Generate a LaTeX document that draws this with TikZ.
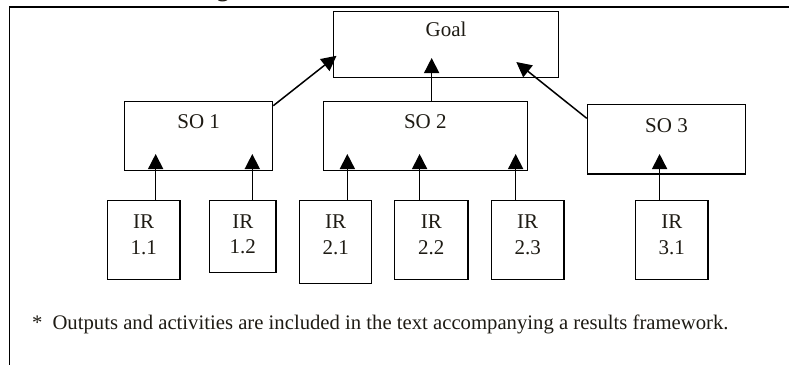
\documentclass[tikz,border=0pt]{standalone}
\usepackage{fontspec}
\setmainfont{Liberation Serif}
\usetikzlibrary{arrows.meta}
\definecolor{txt}{HTML}{1E1B14}
\begin{document}
\begin{tikzpicture}[x=1pt,y=-1pt,
  box/.style={draw=black, line width=1.3pt, inner sep=0pt, anchor=north west},
  lab/.style={anchor=base, inner sep=0pt, text=txt, font=\fontsize{21}{25}\selectfont},
  arr/.style={draw=black, line width=1.5pt, -{Triangle[width=15pt,length=15pt]}}]
\useasboundingbox (0,0) rectangle (789,364);
\clip (0,0) rectangle (789,364);
% clipped title
\node[anchor=base west, inner sep=0pt, text=txt, font=\fontsize{24.5}{28}\selectfont\bfseries] (title) at (195,-3.5) {Figure 3: USAID Results Framework};
% outer frame (runs off the right and bottom edges)
\draw[line width=1.6pt] (9.5,7) rectangle (830,420);
% goal
\node[box, minimum width=225, minimum height=66.5, label={[lab,yshift=-25.5pt]north:Goal}] (goal) at (333,10.5) {};
% strategic objectives
\node[box, minimum width=148, minimum height=69.3, label={[lab,yshift=-27.6pt]north:SO 1}] (so1) at (124,100.7) {};
\node[box, minimum width=204, minimum height=69.3, label={[lab,yshift=-27.6pt]north:SO 2}] (so2) at (322.7,100.7) {};
\node[box, minimum width=158.3, minimum height=69.3, label={[lab,yshift=-28.3pt]north:SO 3}] (so3) at (586.7,104) {};
% intermediate results
\node[box, minimum width=72.6, minimum height=79, label={[lab,yshift=-28.3pt]north:IR}, label={[lab,yshift=-54pt]north:1.1}] (ir11) at (106.7,200) {};
\node[box, minimum width=66.3, minimum height=71.7, label={[lab,yshift=-28.3pt]north:IR}, label={[lab,yshift=-53pt]north:1.2}] (ir12) at (209,200) {};
\node[box, minimum width=72, minimum height=82.7, label={[lab,yshift=-28.3pt]north:IR}, label={[lab,yshift=-54pt]north:2.1}] (ir21) at (299,200) {};
\node[box, minimum width=73.3, minimum height=79, label={[lab,yshift=-28.3pt]north:IR}, label={[lab,yshift=-54pt]north:2.2}] (ir22) at (394,200) {};
\node[box, minimum width=72.6, minimum height=79, label={[lab,yshift=-28.3pt]north:IR}, label={[lab,yshift=-54pt]north:2.3}] (ir23) at (490.7,200) {};
\node[box, minimum width=72.3, minimum height=79, label={[lab,yshift=-28.3pt]north:IR}, label={[lab,yshift=-54pt]north:3.1}] (ir31) at (635,200) {};
% IR -> SO arrows
\draw[arr] ([xshift=12pt]ir11.north) -- ([xshift=12pt,yshift=17.3pt]ir11.north |- so1.south);
\draw[arr] ([xshift=9.5pt]ir12.north) -- ([xshift=9.5pt,yshift=17.3pt]ir12.north |- so1.south);
\draw[arr] ([xshift=11.7pt]ir21.north) -- ([xshift=11.7pt,yshift=17.3pt]ir21.north |- so2.south);
\draw[arr] ([xshift=-11.7pt]ir22.north) -- ([xshift=-11.7pt,yshift=17.3pt]ir22.north |- so2.south);
\draw[arr] ([xshift=-12pt]ir23.north) -- ([xshift=-12pt,yshift=17.3pt]ir23.north |- so2.south);
\draw[arr] ([xshift=-12.2pt]ir31.north) -- ([xshift=-12.2pt,yshift=20.6pt]ir31.north |- so3.south);
% SO -> Goal arrows
\draw[arr] ([yshift=-5pt]so1.north east) -- ([xshift=3.5pt,yshift=22.5pt]goal.south west);
\draw[arr] ([xshift=6.3pt]so2.north) -- ([xshift=6.3pt,yshift=20.3pt]so2.north |- goal.south);
\draw[arr] ([yshift=-14.3pt]so3.north west) -- ([xshift=-43pt,yshift=16.3pt]goal.south east);
% footnote
\node[anchor=base west, inner sep=0pt, text=txt, font=\fontsize{20.7}{25}\selectfont] (note) at (32,329.5) {*\hspace{10pt}Outputs and activities are included in the text accompanying a results framework.};
\end{tikzpicture}
\end{document}
